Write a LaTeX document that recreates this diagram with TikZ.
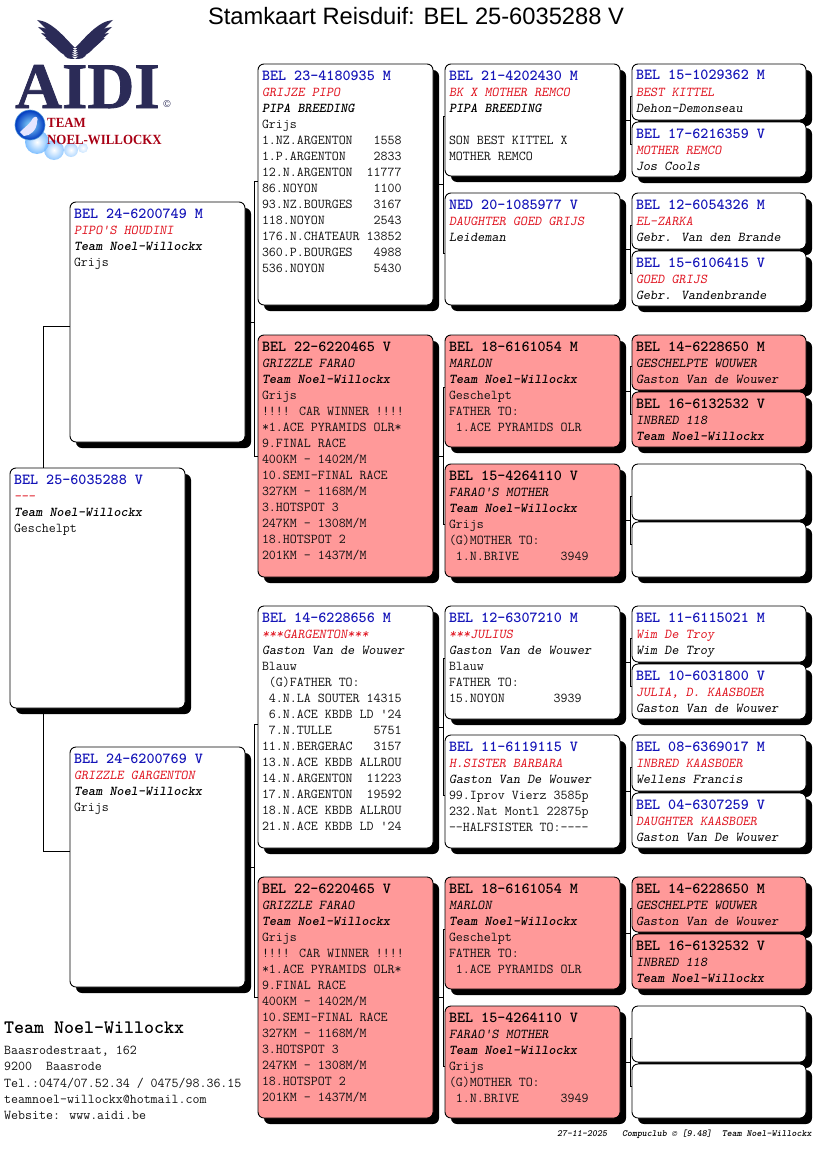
\documentclass[tikz,border=0pt]{standalone}
\usepackage{fontspec}
\usetikzlibrary{calc,shadows,backgrounds}
\setmainfont{Liberation Sans}
\newfontfamily\serifb{Liberation Serif}[BoldFeatures={FakeBold=1.2}]
\newfontfamily\serifc{Liberation Serif}[BoldFeatures={FakeStretch=0.92}]
\definecolor{hblue}{HTML}{1414B8}
\definecolor{nred}{HTML}{E01420}
\definecolor{rose}{HTML}{FF9999}
\definecolor{ink}{HTML}{111111}
\definecolor{navy}{HTML}{2B2B57}
\definecolor{logored}{HTML}{A80014}
\newcommand\HB[1]{\rule{0pt}{10pt}{\fontsize{15.35}{16}\selectfont\bfseries\color{hblue}#1}\\[0.7pt]}
\newcommand\HK[1]{\rule{0pt}{10pt}{\fontsize{15.35}{16}\selectfont\bfseries\color{black}#1}\\[0.7pt]}
\newcommand\NR[1]{{\slshape\color{nred}#1}}
\newcommand\NK[1]{{\slshape\color{black}#1}}
\newcommand\BR[1]{{\bfseries\slshape\color{black}#1}}
\newcommand\GA[1]{{\slshape\color{black}#1}}
\tikzset{
  x=1pt,y=-1pt,
  card/.style={draw=black,line width=0.9pt,rounded corners=6pt,inner sep=0pt,outer sep=0pt,fill=white,
    drop shadow={shadow xshift=6pt,shadow yshift=-6pt,fill=black,opacity=1}},
  plain/.style={},
  pink/.style={fill=rose},
  cardtext/.style={anchor=north west,inner sep=0pt,outer sep=0pt,align=left,text=ink,
    font=\ttfamily\fontsize{13.55}{16}\selectfont},
  conn/.style={draw=black,line width=0.8pt},
  footer/.style={anchor=base west,inner sep=0pt,text=ink,font=\ttfamily\fontsize{13.55}{16}\selectfont},
}
\newcommand\cardbox[6]{%
  \pgfmathsetmacro\cxx{(#2+#4)/2}\pgfmathsetmacro\cyy{(#3+#5)/2}%
  \pgfmathsetmacro\cww{#4-#2}\pgfmathsetmacro\chh{#5-#3}%
  \node[card,#6,minimum width=\cww pt,minimum height=\chh pt] (#1) at (\cxx,\cyy) {};}
\newcommand\cardlabel[4]{\node[cardtext] (#1-t) at ({#2+4},{#3+6}) {#4};}
\newcommand\bracket[6]{%
  \draw[conn] (#1.east) -- ++(#4,0) coordinate (v#1);
  \draw[conn] ($(#2.west)+(0,#5)$) -| (v#1);
  \draw[conn] ($(#3.west)+(0,#6)$) -| (v#1);}
\begin{document}
\begin{tikzpicture}
\useasboundingbox (0,0) rectangle (816,1172);
% title
\node[anchor=base,inner sep=0pt,font=\fontsize{23.7}{28}\selectfont] (title) at (416,25) {Stamkaart Reisduif: BEL 25-6035288 V};
% logo: wings
\foreach \s in {1,-1}{
\begin{scope}[shift={(75,0)},xscale=\s]
 \foreach \tx/\ty/\i in {-38/20/0,-37/27/1,-34/33/2,-30/38/3,-24/43/4,-16/48/5}{
  \fill[navy] (\tx,\ty) .. controls ({\tx+15},{\ty+1}) and (-10,{38+\i*3}) .. (0,{48+\i*2.2})
     .. controls (-14,{48+\i*2.2}) and ({\tx+8},{\ty+7}) .. (\tx,\ty);
 }
\end{scope}}
\node[anchor=base west,inner sep=0pt,text=navy,font=\serifb\bfseries\fontsize{65}{70}\selectfont] (aidi) at (15,108) {AIDI};
\node[inner sep=0pt,text=navy,font=\fontsize{10}{12}\selectfont] (copy) at (167,104) {©};
% logo: pigeons
\foreach \cx/\cy/\r/\op in {83/148/5/0.35,71/150/7/0.5,54/150/10/0.7,37/142/12/0.85}{
  \shade[inner color=white,outer color=cyan!50!blue!60,opacity=\op] (\cx,\cy) circle (\r);
}
\shade[inner color=blue!30!cyan!45,outer color=blue!70!cyan!75!black] (30,125) circle (15);
\draw[cyan!60!blue!70,line width=0.6pt] (30,125) circle (15);
\fill[white!90!blue] (20,132) .. controls (26,126) and (30,124) .. (33,118) .. controls (36,115) and (39,118) .. (37,122)
  .. controls (37,130) and (30,136) .. (24,136) -- cycle;
\node[anchor=base west,inner sep=0pt,text=logored,font=\serifc\bfseries\fontsize{14}{16}\selectfont] (team) at (47,127) {TEAM};
\node[anchor=base west,inner sep=0pt,text=logored,font=\serifc\bfseries\fontsize{14}{16}\selectfont] (noel) at (47,144) {NOEL-WILLOCKX};
% cards
\cardbox{root}{10}{468}{185}{708}{plain}
\cardlabel{root}{10}{468}{\HB{BEL 25-6035288 V}\NR{---}\\\BR{Team Noel-Willockx}\\Geschelpt}
\cardbox{s}{70}{202}{245}{442}{plain}
\cardlabel{s}{70}{202}{\HB{BEL 24-6200749 M}\NR{PIPO'S HOUDINI}\\\BR{Team Noel-Willockx}\\Grijs}
\cardbox{d}{70}{747}{245}{987}{plain}
\cardlabel{d}{70}{747}{\HB{BEL 24-6200769 V}\NR{GRIZZLE GARGENTON}\\\BR{Team Noel-Willockx}\\Grijs}
% third column
\cardbox{ss}{258}{64}{433}{305}{plain}
\cardlabel{ss}{258}{64}{\HB{BEL 23-4180935 M}\NR{GRIJZE PIPO}\\\BR{PIPA BREEDING}\\Grijs\\1.NZ.ARGENTON~~~1558\\1.P.ARGENTON~~~~2833\\12.N.ARGENTON~~11777\\86.NOYON~~~~~~~~1100\\93.NZ.BOURGES~~~3167\\118.NOYON~~~~~~~2543\\176.N.CHATEAUR~13852\\360.P.BOURGES~~~4988\\536.NOYON~~~~~~~5430}
\cardbox{sd}{258}{335}{433}{577}{pink}
\cardlabel{sd}{258}{335}{\HK{BEL 22-6220465 V}\NK{GRIZZLE FARAO}\\\BR{Team Noel-Willockx}\\Grijs\\!!!! CAR WINNER !!!!\\*1.ACE PYRAMIDS OLR*\\9.FINAL RACE\\400KM - 1402M/M\\10.SEMI-FINAL RACE\\327KM - 1168M/M\\3.HOTSPOT 3\\247KM - 1308M/M\\18.HOTSPOT 2\\201KM - 1437M/M}
\cardbox{ds}{258}{606}{433}{848}{plain}
\cardlabel{ds}{258}{606}{\HB{BEL 14-6228656 M}\NR{***GARGENTON***}\\\GA{Gaston Van de Wouwer}\\Blauw\\~(G)FATHER TO:\\~4.N.LA SOUTER 14315\\~6.N.ACE KBDB LD '24\\~7.N.TULLE~~~~~~5751\\11.N.BERGERAC~~~3157\\13.N.ACE KBDB ALLROU\\14.N.ARGENTON~~11223\\17.N.ARGENTON~~19592\\18.N.ACE KBDB ALLROU\\21.N.ACE KBDB LD '24}
\cardbox{dd}{258}{877}{433}{1118}{pink}
\cardlabel{dd}{258}{877}{\HK{BEL 22-6220465 V}\NK{GRIZZLE FARAO}\\\BR{Team Noel-Willockx}\\Grijs\\!!!! CAR WINNER !!!!\\*1.ACE PYRAMIDS OLR*\\9.FINAL RACE\\400KM - 1402M/M\\10.SEMI-FINAL RACE\\327KM - 1168M/M\\3.HOTSPOT 3\\247KM - 1308M/M\\18.HOTSPOT 2\\201KM - 1437M/M}
% fourth column
\cardbox{sss}{445}{64}{620}{176}{plain}
\cardlabel{sss}{445}{64}{\HB{BEL 21-4202430 M}\NR{BK X MOTHER REMCO}\\\BR{PIPA BREEDING}\\\mbox{}\\SON BEST KITTEL X\\MOTHER REMCO}
\cardbox{ssd}{445}{193}{620}{305}{plain}
\cardlabel{ssd}{445}{193}{\HB{NED 20-1085977 V}\NR{DAUGHTER GOED GRIJS}\\\GA{Leideman}}
\cardbox{sds}{445}{335}{620}{447}{pink}
\cardlabel{sds}{445}{335}{\HK{BEL 18-6161054 M}\NK{MARLON}\\\BR{Team Noel-Willockx}\\Geschelpt\\FATHER TO:\\~1.ACE PYRAMIDS OLR}
\cardbox{sdd}{445}{464}{620}{577}{pink}
\cardlabel{sdd}{445}{464}{\HK{BEL 15-4264110 V}\NK{FARAO'S MOTHER}\\\BR{Team Noel-Willockx}\\Grijs\\(G)MOTHER TO:\\~1.N.BRIVE~~~~~~3949}
\cardbox{dss}{445}{606}{620}{719}{plain}
\cardlabel{dss}{445}{606}{\HB{BEL 12-6307210 M}\NR{***JULIUS}\\\GA{Gaston Van de Wouwer}\\Blauw\\FATHER TO:\\15.NOYON~~~~~~~3939}
\cardbox{dsd}{445}{735}{620}{848}{plain}
\cardlabel{dsd}{445}{735}{\HB{BEL 11-6119115 V}\NR{H.SISTER BARBARA}\\\GA{Gaston Van De Wouwer}\\99.Iprov Vierz 3585p\\232.Nat Montl 22875p\\--HALFSISTER TO:----}
\cardbox{dds}{445}{877}{620}{989}{pink}
\cardlabel{dds}{445}{877}{\HK{BEL 18-6161054 M}\NK{MARLON}\\\BR{Team Noel-Willockx}\\Geschelpt\\FATHER TO:\\~1.ACE PYRAMIDS OLR}
\cardbox{ddd}{445}{1006}{620}{1118}{pink}
\cardlabel{ddd}{445}{1006}{\HK{BEL 15-4264110 V}\NK{FARAO'S MOTHER}\\\BR{Team Noel-Willockx}\\Grijs\\(G)MOTHER TO:\\~1.N.BRIVE~~~~~~3949}
% fifth column
\cardbox{ssss}{632}{64}{806}{120}{plain}
\cardlabel{ssss}{632}{64}{\HB{BEL 15-1029362 M}\NR{BEST KITTEL}\\\GA{Dehon-Demonseau}}
\cardbox{sssd}{632}{122}{806}{177}{plain}
\cardlabel{sssd}{632}{122}{\HB{BEL 17-6216359 V}\NR{MOTHER REMCO}\\\GA{Jos Cools}}
\cardbox{ssds}{632}{193}{806}{249}{plain}
\cardlabel{ssds}{632}{193}{\HB{BEL 12-6054326 M}\NR{EL-ZARKA}\\\GA{Gebr. Van den Brande}}
\cardbox{ssdd}{632}{251}{806}{306}{plain}
\cardlabel{ssdd}{632}{251}{\HB{BEL 15-6106415 V}\NR{GOED GRIJS}\\\GA{Gebr. Vandenbrande}}
\cardbox{sdss}{632}{335}{806}{390}{pink}
\cardlabel{sdss}{632}{335}{\HK{BEL 14-6228650 M}\NK{GESCHELPTE WOUWER}\\\GA{Gaston Van de Wouwer}}
\cardbox{sdsd}{632}{392}{806}{447}{pink}
\cardlabel{sdsd}{632}{392}{\HK{BEL 16-6132532 V}\NK{INBRED 118}\\\BR{Team Noel-Willockx}}
\cardbox{sdds}{632}{464}{806}{520}{plain}
\cardbox{sddd}{632}{522}{806}{577}{plain}
\cardbox{dsss}{632}{606}{806}{662}{plain}
\cardlabel{dsss}{632}{606}{\HB{BEL 11-6115021 M}\NR{Wim De Troy}\\\GA{Wim De Troy}}
\cardbox{dssd}{632}{664}{806}{719}{plain}
\cardlabel{dssd}{632}{664}{\HB{BEL 10-6031800 V}\NR{JULIA, D. KAASBOER}\\\GA{Gaston Van de Wouwer}}
\cardbox{dsds}{632}{735}{806}{791}{plain}
\cardlabel{dsds}{632}{735}{\HB{BEL 08-6369017 M}\NR{INBRED KAASBOER}\\\GA{Wellens Francis}}
\cardbox{dsdd}{632}{793}{806}{848}{plain}
\cardlabel{dsdd}{632}{793}{\HB{BEL 04-6307259 V}\NR{DAUGHTER KAASBOER}\\\GA{Gaston Van De Wouwer}}
\cardbox{ddss}{632}{877}{806}{932}{pink}
\cardlabel{ddss}{632}{877}{\HK{BEL 14-6228650 M}\NK{GESCHELPTE WOUWER}\\\GA{Gaston Van de Wouwer}}
\cardbox{ddsd}{632}{934}{806}{989}{pink}
\cardlabel{ddsd}{632}{934}{\HK{BEL 16-6132532 V}\NK{INBRED 118}\\\BR{Team Noel-Willockx}}
\cardbox{ddds}{632}{1006}{806}{1062}{plain}
\cardbox{dddd}{632}{1064}{806}{1118}{plain}
% connectors, behind the cards
\begin{pgfonlayer}{background}
\coordinate (vroot) at ($(root.west)+(33,0)$);
\draw[conn] ($(s.west)+(0,4)$) -| (vroot);
\draw[conn] ($(d.west)+(0,-16)$) -| (vroot);
\bracket{s}{ss}{sd}{9}{-3}{0}
\bracket{d}{ds}{dd}{9}{-3}{0}
\bracket{ss}{sss}{ssd}{10}{-4}{4}
\bracket{sd}{sds}{sdd}{10}{-4}{4}
\bracket{ds}{dss}{dsd}{10}{-4}{4}
\bracket{dd}{dds}{ddd}{10}{-4}{4}
\bracket{sss}{ssss}{sssd}{10}{4}{-5}
\bracket{ssd}{ssds}{ssdd}{10}{4}{-5}
\bracket{sds}{sdss}{sdsd}{10}{4}{-5}
\bracket{sdd}{sdds}{sddd}{10}{4}{-5}
\bracket{dss}{dsss}{dssd}{10}{4}{-5}
\bracket{dsd}{dsds}{dsdd}{10}{4}{-5}
\bracket{dds}{ddss}{ddsd}{10}{4}{-5}
\bracket{ddd}{ddds}{dddd}{10}{4}{-5}
\end{pgfonlayer}
% footer
\node[anchor=base west,inner sep=0pt,text=black,font=\ttfamily\bfseries\fontsize{19.05}{20}\selectfont] (ft0) at (4,1033) {Team Noel-Willockx};
\node[footer] (ft1) at (4,1054) {Baasrodestraat, 162};
\node[footer] (ft2) at (4,1070) {9200~~Baasrode};
\node[footer] (ft3) at (4,1087) {Tel.:0474/07.52.34 / 0475/98.36.15};
\node[footer] (ft4) at (4,1103) {teamnoel-willockx@hotmail.com};
\node[footer] (ft5) at (4,1119) {Website: www.aidi.be};
\node[anchor=base west,inner sep=0pt,text=black,font=\ttfamily\bfseries\slshape\fontsize{9.5}{10}\selectfont] (stamp) at (557,1136) {27-11-2025~~~Compuclub \copyright\ [9.48]~~Team Noel-Willockx};
\end{tikzpicture}
\end{document}
